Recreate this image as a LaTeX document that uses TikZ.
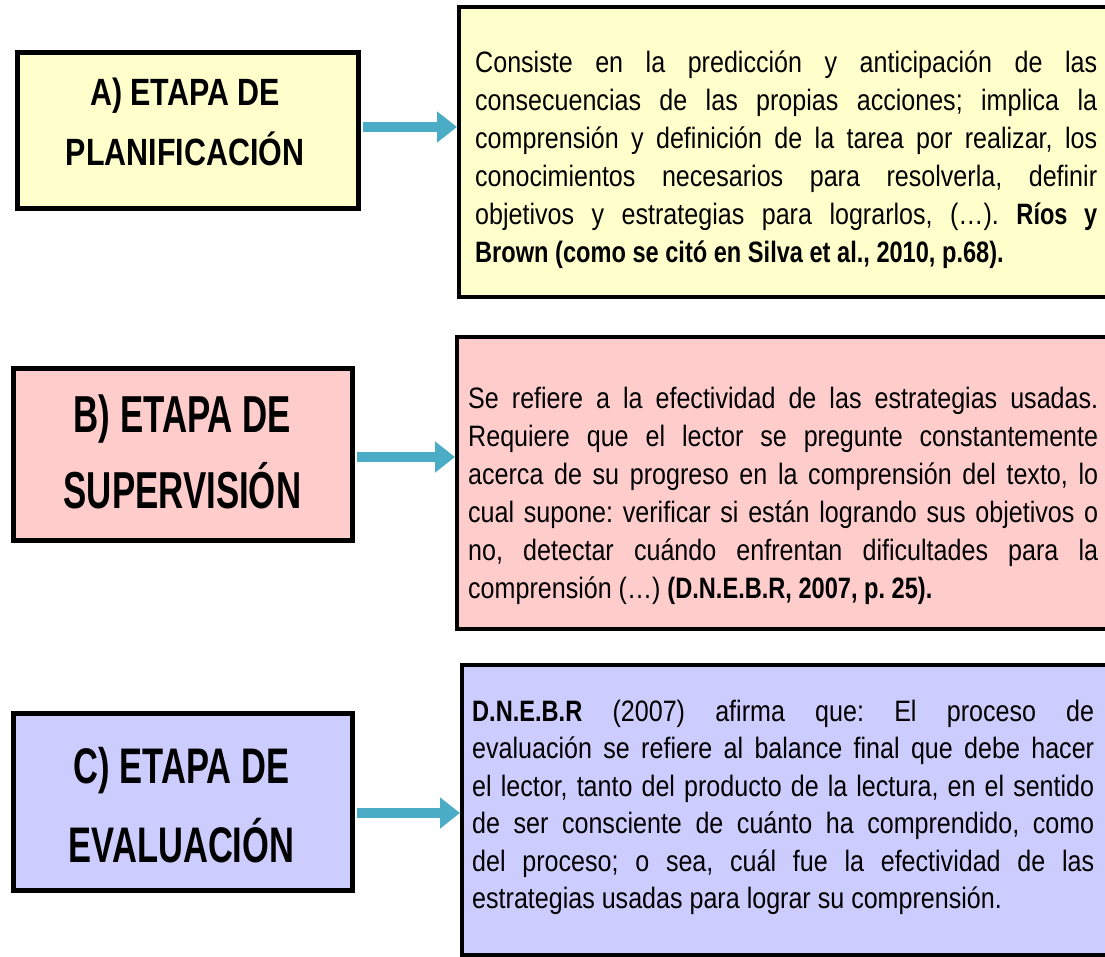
\documentclass[tikz,border=0pt]{standalone}
\usepackage{fontspec}
\setmainfont{Liberation Sans}
\newfontfamily\bodyfont{Liberation Sans}[FakeStretch=0.85]
\newfontfamily\bodybold{Liberation Sans Bold}[FakeStretch=0.80]
\newfontfamily\titlefontA{Liberation Sans Bold}[FakeStretch=0.80]
\newfontfamily\titlefontB{Liberation Sans Bold}[FakeStretch=0.67]
\newfontfamily\titlefontC{Liberation Sans Bold}[FakeStretch=0.69]
\usetikzlibrary{arrows.meta}
\definecolor{fillA}{HTML}{FFFFCC}
\definecolor{fillB}{HTML}{FFCCCC}
\definecolor{fillC}{HTML}{CCCCFF}
\definecolor{arrowblue}{HTML}{4BACC6}
\frenchspacing
\newcommand\jline[1]{\makebox[\linewidth][s]{#1}\\}
\newcommand\bb[1]{{\bodybold #1}}
\begin{document}
\begin{tikzpicture}[x=1pt,y=-1pt,
  stagebox/.style={draw=black, line width=5pt, inner sep=0pt},
  infobox/.style={draw=black, line width=4pt, inner sep=0pt, anchor=north west},
  titletext/.style={inner sep=0pt, anchor=base},
  bodytext/.style={inner sep=0pt, anchor=base west},
  link/.style={draw=arrowblue, line width=10pt, shorten <=2pt, -{Triangle[length=20pt,width=30pt]}},
]
\useasboundingbox (0,0) rectangle (1105,956);
\clip (0,0) rectangle (1105,956);

% left stage boxes
\node[stagebox, fill=fillA, minimum width=341pt, minimum height=156pt] (lA) at (187.5,130) {};
\node[stagebox, fill=fillB, minimum width=339pt, minimum height=172pt] (lB) at (182.5,454) {};
\node[stagebox, fill=fillC, minimum width=339pt, minimum height=177pt] (lC) at (182.5,801.5) {};

% right description boxes
\node[infobox, fill=fillA, minimum width=680pt, minimum height=290pt] (rA) at (457,5) {};
\node[infobox, fill=fillB, minimum width=680pt, minimum height=292pt] (rB) at (455,335) {};
\node[infobox, fill=fillC, minimum width=680pt, minimum height=290pt] (rC) at (460,663) {};

% titles
\node[titletext] (tA) at (185,105) {\parbox[t]{330pt}{\centering\titlefontA\fontsize{38}{60}\selectfont A) ETAPA DE\\PLANIFICACIÓN}};
\node[titletext] (tB) at (182.5,432) {\parbox[t]{330pt}{\centering\titlefontB\fontsize{52}{76}\selectfont B) ETAPA DE\\SUPERVISIÓN}};
\node[titletext] (tC) at (181.5,783) {\parbox[t]{330pt}{\centering\titlefontC\fontsize{50}{79}\selectfont C) ETAPA DE\\EVALUACIÓN}};

% body texts
\node[bodytext] (bA) at (475,72) {\parbox[t]{622pt}{\bodyfont\fontsize{29.5}{38}\selectfont
\jline{Consiste en la predicción y anticipación de las}
\jline{consecuencias de las propias acciones; implica la}
\jline{comprensión y definición de la tarea por realizar, los}
\jline{conocimientos necesarios para resolverla, definir}
\jline{objetivos y estrategias para lograrlos, (…). \bb{Ríos y}}
\bb{Brown (como se citó en Silva et al., 2010, p.68).}}};

\node[bodytext] (bB) at (468,408) {\parbox[t]{630pt}{\bodyfont\fontsize{29.5}{38}\selectfont
\jline{Se refiere a la efectividad de las estrategias usadas.}
\jline{Requiere que el lector se pregunte constantemente}
\jline{acerca de su progreso en la comprensión del texto, lo}
\jline{cual supone: verificar si están logrando sus objetivos o}
\jline{no, detectar cuándo enfrentan dificultades para la}
comprensión (…) \bb{(D.N.E.B.R, 2007, p. 25).}}};

\node[bodytext] (bC) at (472,721) {\parbox[t]{622pt}{\bodyfont\fontsize{29.5}{37.5}\selectfont
\jline{\bb{D.N.E.B.R} (2007) afirma que: El proceso de}
\jline{evaluación se refiere al balance final que debe hacer}
\jline{el lector, tanto del producto de la lectura, en el sentido}
\jline{de ser consciente de cuánto ha comprendido, como}
\jline{del proceso; o sea, cuál fue la efectividad de las}
estrategias usadas para lograr su comprensión.}};

% connectors
\coordinate (yA) at (0,127);
\coordinate (yB) at (0,457);
\coordinate (yC) at (0,813);
\draw[link] (lA.east |- yA) -- (rA.west |- yA);
\draw[link] (lB.east |- yB) -- (rB.west |- yB);
\draw[link] (lC.east |- yC) -- (rC.west |- yC);
\end{tikzpicture}
\end{document}
